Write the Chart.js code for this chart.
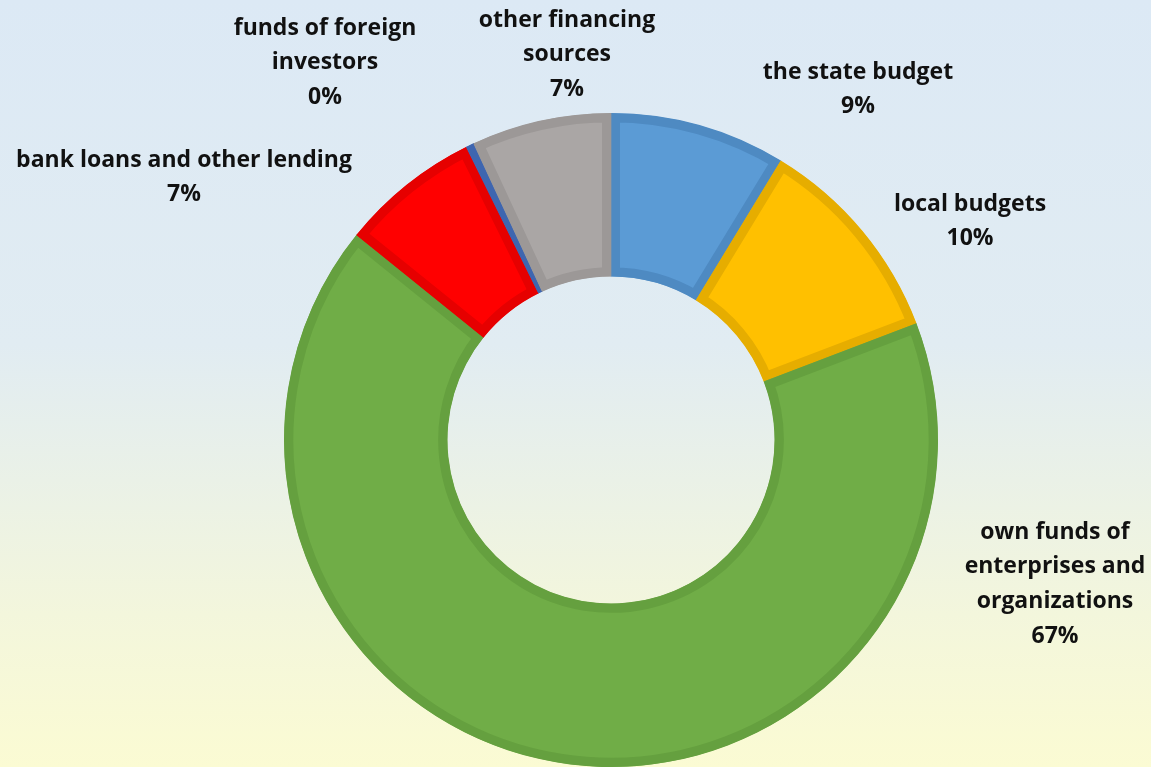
<!DOCTYPE html>
<html>
<head>
<meta charset="utf-8">
<script src="https://cdn.jsdelivr.net/npm/chart.js@4.4.1/dist/chart.umd.min.js"></script>
<style>
  html, body { margin: 0; padding: 0; }
  body {
    width: 1151px; height: 767px; overflow: hidden;
    background: linear-gradient(to bottom, #dce9f5 0%, #e1ecf2 45%, #f3f6dc 80%, #fbfbd3 100%);
  }
  #wrap { position: relative; width: 1151px; height: 767px; }
</style>
</head>
<body>
<div id="wrap"><canvas id="chart"></canvas></div>
<script>
  // data, clockwise from 12 o'clock
  const categories = [
    'the state budget',
    'local budgets',
    'own funds of enterprises and organizations',
    'bank loans and other lending',
    'funds of foreign investors',
    'other financing sources',
  ];
  const shares = [8.7, 10.5, 66.6, 6.9, 0.4, 6.9];
  const shareLabels = ['9%', '10%', '67%', '7%', '0%', '7%'];

  // how each label is wrapped in the picture
  const labelLines = [
    ['the state budget'],
    ['local budgets'],
    ['own funds of', 'enterprises and', 'organizations'],
    ['bank loans and other lending'],
    ['funds of foreign', 'investors'],
    ['other financing', 'sources'],
  ];

  const fills = ['#5b9bd5', '#ffc000', '#70ad47', '#ff0000', '#4472c4', '#aaa6a5'];
  const edges = ['#4e8ac2', '#e6ad00', '#65a03f', '#e60000', '#3e66b0', '#9c9897'];

  // label block centre (x) and first line centre (y), relative to the doughnut centre
  const labelOffsets = [
    [247, -368], [359, -236], [444, 92], [-427, -280], [-286, -412], [-44, -420],
  ];
  const LINE_H = 34.7;

  const outsideLabels = {
    id: 'outsideLabels',
    afterDatasetsDraw(chart) {
      const { ctx } = chart;
      const arc = chart.getDatasetMeta(0).data[0];
      const cx = arc.x;
      const cy = arc.y;
      ctx.save();
      ctx.font = 'bold 23px "Open Sans", Lato, sans-serif';
      ctx.fillStyle = '#111111';
      ctx.textAlign = 'center';
      ctx.textBaseline = 'middle';
      labelLines.forEach((lines, i) => {
        const [dx, dy] = labelOffsets[i];
        const all = lines.concat([shareLabels[i]]);
        all.forEach((line, j) => {
          ctx.fillText(line, cx + dx, cy + dy + j * LINE_H);
        });
      });
      ctx.restore();
    },
  };

  new Chart(document.getElementById('chart'), {
    type: 'doughnut',
    data: {
      labels: categories,
      datasets: [{
        data: shares,
        backgroundColor: fills,
        borderColor: edges,
        borderWidth: 9,
        borderAlign: 'inner',
        hoverOffset: 0,
      }],
    },
    options: {
      responsive: true,
      maintainAspectRatio: false,
      animation: false,
      cutout: '50%',
      layout: { padding: { top: 113, bottom: 0, left: 71, right: 0 } },
      plugins: {
        legend: { display: false },
        tooltip: { enabled: false },
      },
    },
    plugins: [outsideLabels],
  });
</script>
</body>
</html>
